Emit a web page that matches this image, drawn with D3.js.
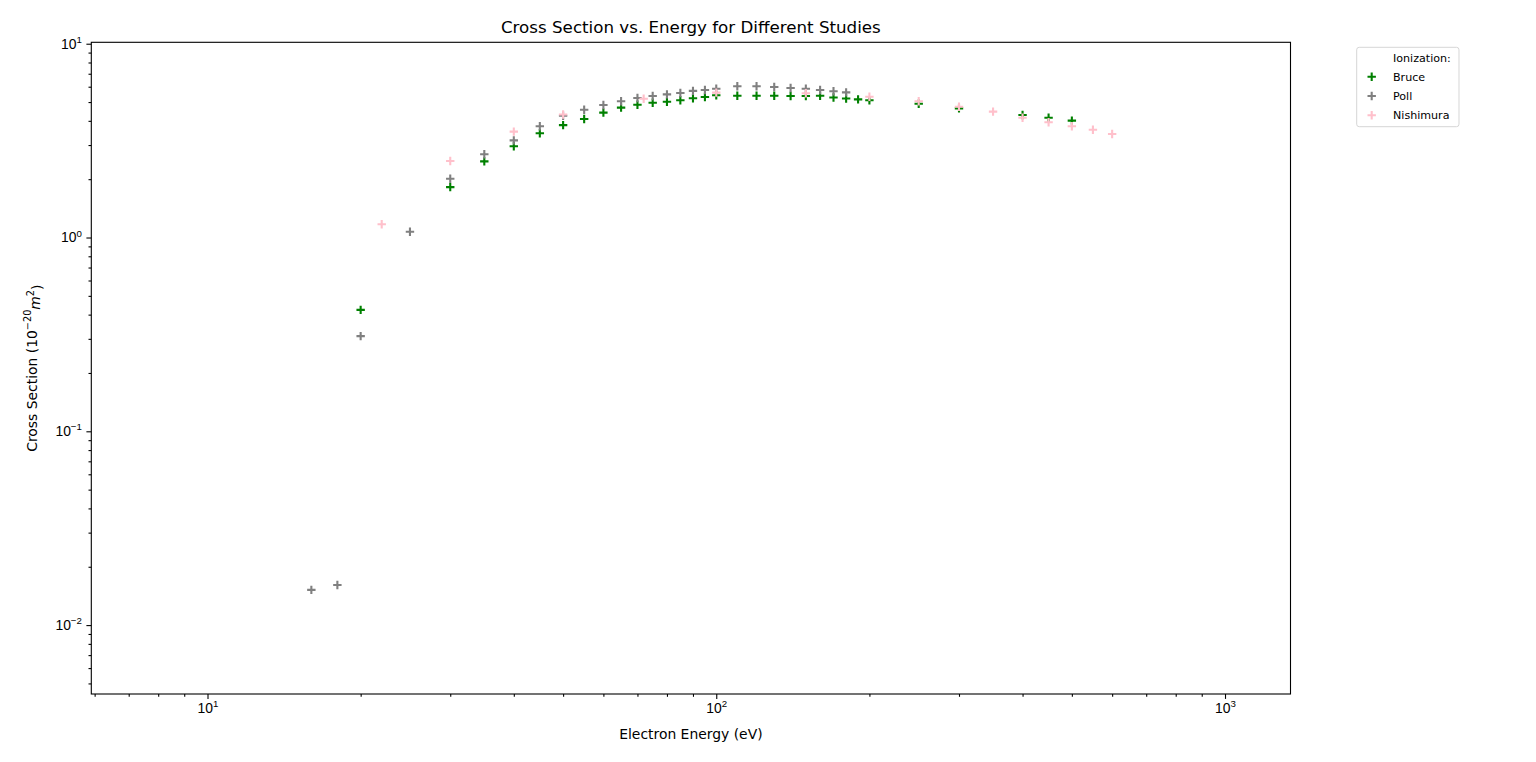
<!DOCTYPE html>
<html>
<head>
<meta charset="utf-8">
<script src="https://cdn.jsdelivr.net/npm/d3@7"></script>
<style>
  body { margin: 0; background: #fff; }
  svg { font-family: "DejaVu Sans", sans-serif; }
</style>
</head>
<body>
<div id="chart"></div>
<script>
// Bruce
const bruce_energy = [20, 30, 35, 40, 45, 50, 55, 60, 65, 70, 75, 80, 85, 90, 95, 100,
      110, 120, 130, 140, 150, 160, 170, 180, 190, 200, 250, 300, 400, 450, 500]
const bruce_sigma = [0.423, 1.82, 2.47, 2.96, 3.45, 3.80, 4.09, 4.41, 4.68, 4.84, 4.96, 5.02, 5.11, 5.23, 5.31, 5.42,
      5.39, 5.39, 5.39, 5.37, 5.37, 5.39, 5.28, 5.22, 5.16, 5.11, 4.90, 4.64, 4.29, 4.15, 4.01]

// Poll
const poll_energy = [16, 18, 20, 25, 30, 35, 40, 45, 50, 55, 60, 65, 70, 75, 80, 85, 90, 95, 100,
      110, 120, 130, 140, 150, 160, 170, 180]
const poll_sigma = [0.0152, 0.0161, 0.31, 1.07, 2.01, 2.69, 3.17, 3.75, 4.25, 4.56, 4.83, 5.05, 5.25, 5.37, 5.48, 5.57, 5.71, 5.77, 5.86,
      6.03, 6.03, 5.98, 5.91, 5.86, 5.77, 5.68, 5.61]

// Nishimura
const nishimura_energy = [22, 30, 40, 50, 72, 100, 150, 200, 250, 300, 350, 400, 450, 500, 550, 600]
const nishimura_sigma = [1.17, 2.48, 3.52, 4.31, 5.2, 5.59, 5.55, 5.33, 5.05, 4.73, 4.46, 4.15, 3.93, 3.75, 3.60, 3.42]

const series_names = ["Bruce", "Poll", "Nishimura"]
const series_colors = ["green", "gray", "pink"]
const x_range = [5.91, 1345]
const y_range = [0.00441, 10.17]
const x_major = [10, 100, 1000]
const y_major = [0.01, 0.1, 1, 10]

const series = [
      {name: series_names[0], color: series_colors[0], e: bruce_energy, s: bruce_sigma},
      {name: series_names[1], color: series_colors[1], e: poll_energy, s: poll_sigma},
      {name: series_names[2], color: series_colors[2], e: nishimura_energy, s: nishimura_sigma}
]

const W = 1536, H = 762
const margin = {top: 42.3, right: 245.5, bottom: 68, left: 91.3}
const width = W - margin.left - margin.right
const height = H - margin.top - margin.bottom

var svg = d3.select("#chart").append("svg")
      .attr("width", W)
      .attr("height", H)

var g = svg.append("g")
      .attr("transform", "translate(" + margin.left + "," + margin.top + ")")

const xScale = d3.scaleLog().domain(x_range).range([0, width])
const yScale = d3.scaleLog().domain(y_range).range([height, 0])

function minors(lo, hi){
      let out = []
      for(let d = Math.floor(Math.log10(lo)); d <= Math.ceil(Math.log10(hi)); d++){
            for(let k = 2; k <= 9; k++){
                  const v = k * Math.pow(10, d)
                  if(v >= lo && v <= hi) out.push(v)
            }
      }
      return out
}

// power-of-ten label with a raised exponent
function powLabel(sel){
      sel.each(function(d){
            const t = d3.select(this)
            const p = Math.round(Math.log10(d))
            t.text(null)
            t.append("tspan").text("10")
            t.append("tspan").attr("dy", "-0.6em").attr("font-size", "9.7px")
                  .text(p < 0 ? "\u2212" + (-p) : p)
      })
}

// minor ticks
g.append("g")
      .attr("transform", "translate(0," + height + ")")
      .call(d3.axisBottom(xScale).tickValues(minors(x_range[0], x_range[1])).tickSize(2.8).tickFormat(""))
      .call(a => a.select(".domain").remove())
g.append("g")
      .call(d3.axisLeft(yScale).tickValues(minors(y_range[0], y_range[1])).tickSize(2.8).tickFormat(""))
      .call(a => a.select(".domain").remove())

// major ticks
const xAxis = g.append("g")
      .attr("transform", "translate(0," + height + ")")
      .call(d3.axisBottom(xScale).tickValues(x_major).tickSize(4.9).tickPadding(4.5).tickFormat(d => d))
      .call(a => a.select(".domain").remove())
xAxis.selectAll("text").attr("font-size", "13.9px").attr("fill", "#000").call(powLabel)

const yAxis = g.append("g")
      .call(d3.axisLeft(yScale).tickValues(y_major).tickSize(4.9).tickPadding(4.5).tickFormat(d => d))
      .call(a => a.select(".domain").remove())
yAxis.selectAll("text").attr("font-size", "13.9px").attr("fill", "#000").call(powLabel)

g.selectAll(".tick line").attr("stroke", "#000").attr("stroke-width", 1.1)

// points
const plus = "M-4.2,0H4.2M0,-4.2V4.2"
for(let sr of series){
      g.append("g").selectAll("path")
            .data(sr.e.map((e, i) => [e, sr.s[i]]))
            .join("path")
            .attr("d", plus)
            .attr("transform", d => "translate(" + xScale(d[0]) + "," + yScale(d[1]) + ")")
            .attr("stroke", sr.color)
            .attr("stroke-width", 2.1)
            .attr("fill", "none")
}

// frame
g.append("rect")
      .attr("width", width)
      .attr("height", height)
      .attr("fill", "none")
      .attr("stroke", "#000")
      .attr("stroke-width", 1.1)

// title and axis labels
svg.append("text")
      .attr("x", margin.left + width / 2)
      .attr("y", 33)
      .attr("text-anchor", "middle")
      .attr("font-size", "16.7px")
      .text("Cross Section vs. Energy for Different Studies")

svg.append("text")
      .attr("x", margin.left + width / 2)
      .attr("y", 739)
      .attr("text-anchor", "middle")
      .attr("font-size", "13.9px")
      .text("Electron Energy (eV)")

const ylab = svg.append("text")
      .attr("transform", "translate(37," + (margin.top + height / 2) + ") rotate(-90)")
      .attr("text-anchor", "middle")
      .attr("font-size", "13.9px")
ylab.append("tspan").text("Cross Section (10")
ylab.append("tspan").attr("dy", "-0.6em").attr("font-size", "9.7px").text("\u221220")
ylab.append("tspan").attr("dy", "0.6em").attr("font-style", "italic").text("m")
ylab.append("tspan").attr("dy", "-0.6em").attr("font-size", "9.7px").text("2")
ylab.append("tspan").attr("dy", "0.6em").text(")")

// legend
const lg = svg.append("g").attr("transform", "translate(1356.7,47.3)")
lg.append("rect")
      .attr("width", 102.3)
      .attr("height", 79.4)
      .attr("rx", 2.5)
      .attr("fill", "#fff")
      .attr("stroke", "#d6d6d6")
      .attr("stroke-width", 1)
lg.append("text")
      .attr("x", 36.3)
      .attr("y", 15)
      .attr("font-size", "11.1px")
      .text("Ionization:")
series.forEach((sr, i) => {
      const yy = 29.4 + i * 19.3
      lg.append("path")
            .attr("d", plus)
            .attr("transform", "translate(15," + yy + ")")
            .attr("stroke", sr.color)
            .attr("stroke-width", 2.1)
      lg.append("text")
            .attr("x", 36.3)
            .attr("y", yy + 4)
            .attr("font-size", "11.1px")
            .text(sr.name)
})
</script>
</body>
</html>
